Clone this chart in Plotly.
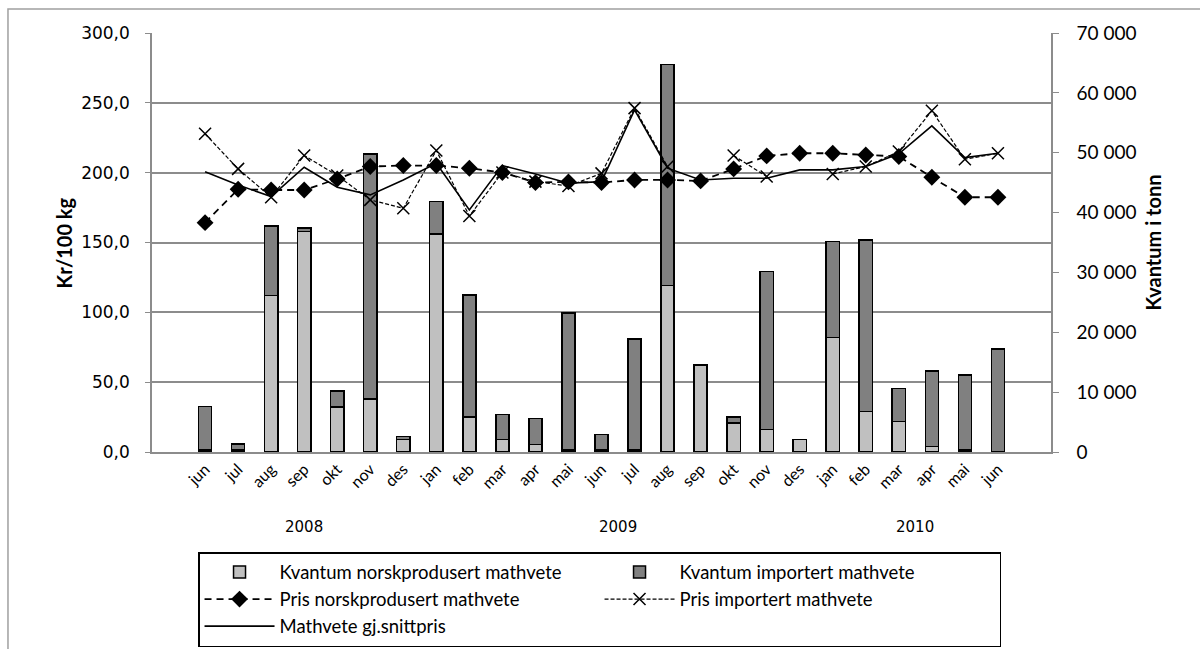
import plotly.graph_objects as go

# maaneder og aar (jun 2008 - jun 2010)
months = ["jun", "jul", "aug", "sep", "okt", "nov", "des",
          "jan", "feb", "mar", "apr", "mai", "jun", "jul", "aug", "sep", "okt", "nov", "des",
          "jan", "feb", "mar", "apr", "mai", "jun"]
years = [2008, 2008, 2008, 2008, 2008, 2008, 2008,
         2009, 2009, 2009, 2009, 2009, 2009, 2009, 2009, 2009, 2009, 2009, 2009,
         2010, 2010, 2010, 2010, 2010, 2010]

# kvantum i tonn
kvantum_norsk = [300, 300, 26160, 36810, 7530, 8870, 2120, 36420, 5860, 2120, 1230, 300,
                 300, 300, 27780, 14500, 4850, 3790, 2120, 19130, 6800, 5130, 950, 300, 100]
kvantum_import = [7300, 1050, 11600, 620, 2680, 40930, 500, 5410, 20360, 4130, 4350, 22960,
                  2660, 18550, 36920, 0, 1010, 26330, 0, 16010, 28620, 5470, 12600, 12530, 17080]

# priser kr/100 kg
pris_norsk = [164.2, 188.1, 187.6, 187.6, 195.5, 204.4, 205.1, 205.1, 203.2, 200.1, 192.9, 193.4,
              192.9, 194.8, 194.8, 194.1, 202.7, 212.0, 213.9, 213.9, 212.7, 211.6, 196.7, 182.4, 182.4]
pris_import = [227.8, 202.7, 182.4, 212.3, 198.0, 180.5, 174.5, 215.9, 169.0, 200.1, 193.6, 190.5,
               199.5, 246.2, 204.4, None, 212.3, 197.2, None, 199.1, 204.4, 215.1, 244.3, 209.6, 213.9]
snittpris = [200.6, 191.2, 182.9, 203.9, 189.6, 184.1, 194.8, 206.8, 173.3, 205.1, 199.1, 192.4,
             193.6, 245.0, 203.2, 194.8, 196.0, 196.0, 202.0, 202.0, 204.4, 213.5, 233.5, 210.8, 213.9]

x = [f"{m} {y}" for m, y in zip(months, years)]

GRID = "#8c8c8c"
NARROW = "Lato, Liberation Sans, sans-serif"

fig = go.Figure()

# stolper paa hoyre akse (y), linjer paa venstre (y2) slik at linjene ligger oppaa
fig.add_trace(go.Bar(x=x, y=kvantum_norsk, name="Kvantum norskprodusert mathvete",
                     marker=dict(color="#c0c0c0", line=dict(color="black", width=1.5)),
                     yaxis="y"))
fig.add_trace(go.Bar(x=x, y=kvantum_import, name="Kvantum importert mathvete",
                     marker=dict(color="#808080", line=dict(color="black", width=1.5)),
                     yaxis="y"))
fig.add_trace(go.Scatter(x=x, y=pris_norsk, name="Pris norskprodusert mathvete", yaxis="y2",
                         mode="lines+markers",
                         line=dict(color="black", width=1.8, dash="7px,5px"),
                         marker=dict(symbol="diamond", size=13, color="black")))
fig.add_trace(go.Scatter(x=x, y=pris_import, name="Pris importert mathvete", yaxis="y2",
                         mode="lines+markers", connectgaps=False,
                         line=dict(color="black", width=1.2, dash="4px,2px"),
                         marker=dict(symbol="x-thin", size=12, color="black",
                                     line=dict(color="black", width=1.5))))
fig.add_trace(go.Scatter(x=x, y=snittpris, name="Mathvete gj.snittpris", yaxis="y2",
                         mode="lines", line=dict(color="black", width=1.6)))

# aarstall under maanedene
year_ann = []
for yr in sorted(set(years)):
    idx = [i for i, v in enumerate(years) if v == yr]
    year_ann.append(dict(x=sum(idx) / len(idx), y=-0.205, xref="x", yref="paper",
                         text=str(yr), showarrow=False,
                         font=dict(family="DejaVu Sans", size=15, color="black")))

fig.update_layout(
    width=1200, height=649,
    margin=dict(l=152, r=149, t=33, b=197, autoexpand=False),
    plot_bgcolor="white", paper_bgcolor="white",
    separators=", ",
    barmode="stack", bargap=0.6,
    showlegend=True,
    legend=dict(orientation="h", x=0.0512, y=-0.2387, xanchor="left", yanchor="top",
                bordercolor="black", borderwidth=1.5, entrywidth=315, itemwidth=70,
                traceorder="normal", tracegroupgap=0,
                font=dict(family=NARROW, size=18.5, color="black")),
    xaxis=dict(type="category", tickvals=x, ticktext=months, tickangle=-45, automargin=False,
               showgrid=False, showline=True, linecolor=GRID, linewidth=1.5, ticks="",
               tickfont=dict(family=NARROW, size=16, color="black")),
    yaxis=dict(side="right", range=[0, 70000], dtick=10000, tickformat=",d", automargin=False,
               showgrid=False, zeroline=False, showline=True, linecolor=GRID, linewidth=1.5,
               ticks="outside", ticklen=6, tickcolor=GRID, ticklabelstandoff=14,
               tickfont=dict(family=NARROW, size=19, color="black")),
    yaxis2=dict(side="left", overlaying="y", range=[0, 300], dtick=50, tickformat=".1f",
                automargin=False,
                showgrid=True, gridcolor=GRID, gridwidth=1.5, zeroline=False,
                showline=True, linecolor=GRID, linewidth=1.5,
                ticks="outside", ticklen=5, tickcolor=GRID, ticklabelstandoff=12,
                tickfont=dict(family="DejaVu Sans", size=17, color="black")),
    annotations=year_ann + [
        dict(x=-0.1135, y=0.5, xref="paper", yref="paper", text="<b>Kr/100 kg</b>",
             textangle=-90, showarrow=False, font=dict(family=NARROW, size=20, color="black")),
        dict(x=1.129, y=0.5, xref="paper", yref="paper", text="<b>Kvantum i tonn</b>",
             textangle=-90, showarrow=False, font=dict(family=NARROW, size=20, color="black")),
    ],
    shapes=[dict(type="rect", xref="paper", yref="paper", x0=-0.1602, y0=-0.6, x1=1.2, y1=1.0573,
                 line=dict(color="#a0a0a0", width=1.5), layer="below")],
)

fig.write_html("out.html", config={"displayModeBar": False},
               post_script="document.body.style.margin='0';")
